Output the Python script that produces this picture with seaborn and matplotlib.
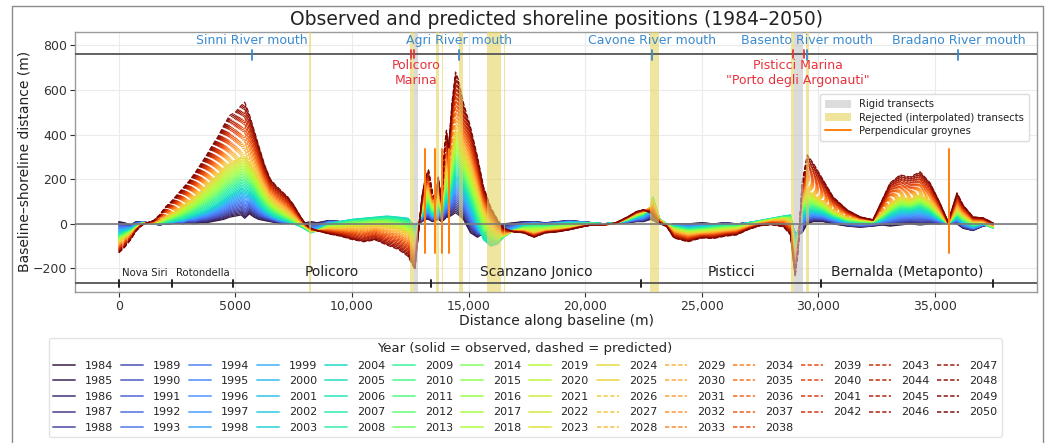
import numpy as np
import pandas as pd
import matplotlib
matplotlib.use("Agg")
import matplotlib.pyplot as plt
import seaborn as sns
from matplotlib.lines import Line2D
from matplotlib.patches import Patch, Rectangle
from matplotlib.ticker import FuncFormatter, FixedLocator

# ---------------- data ----------------
distance_m = [0, 250, 500, 750, 1000, 1250, 1500, 1750, 2000, 2250, 2500, 2750, 3000, 3250, 3500, 3750,
              4000, 4250, 4500, 4750, 5000, 5250, 5400, 5600, 5800, 6000, 6250, 6500, 6750, 7000, 7250, 7500,
              7750, 8000, 8250, 8500, 9000, 9500, 10000, 10500, 11000, 11500, 12000, 12400, 12700, 12850,
              13000, 13150, 13280, 13450, 13580, 13700, 13840, 13970, 14050, 14140, 14300, 14440, 14570, 14780,
              15080, 15380, 15640, 15940, 16240, 16500, 16920, 17350, 17800, 18300, 18800, 19300, 19800, 20300,
              20800, 21300, 21800, 22200, 22500, 22800, 22900, 23200, 23500, 23800, 24400, 25000, 25500, 26000,
              26500, 27000, 27500, 28000, 28500, 28800, 29000, 29130, 29300, 29520, 29770, 30200, 30630, 31230,
              31790, 32340, 32730, 33070, 33500, 33930, 34360, 34790, 35210, 35560, 35940, 36200, 36630, 37060,
              37500]
pos_1984 = [10, 5, -5, 10, 10, 5, 0, -5, 0, 0, 5, 0, 5, 0, 5, 5,
            10, 15, 20, 30, 35, 40, 25, 45, 30, 20, 15, 10, 5, 0, 5, 0,
            10, 5, 10, 5, 15, 10, 5, 5, 0, 5, 0, 0, -10, 0,
            10, 20, 20, 10, 15, 20, 10, 20, 30, 30, 40, 50, 40, 20,
            -40, -60, -40, -30, -10, 0, 5, 10, 10, 5, 10, 15, 10, 5,
            0, 5, 5, 10, 10, 20, 15, 0, -10, 0, 0, 5, 0, 5,
            0, 5, 10, 10, 5, 10, -40, -50, -40, 0, 10, 10, 0, -10,
            -15, -10, -5, -10, -5, 0, -5, 0, 0, 5, 0, -20, -30, -10,
            0]
pos_2005 = [-45, -35, -25, -10, 5, 5, 0, 0, 5, 10, 15, 20, 30, 40, 50, 60,
            75, 90, 110, 130, 145, 160, 155, 145, 125, 95, 65, 45, 30, 20, 10, 0,
            -10, -25, -40, -30, 0, 10, 20, 25, 30, 35, 30, 25, -10, 10,
            40, 65, 75, 40, 50, 75, 40, 95, 115, 100, 170, 220, 210, 170,
            90, 0, -70, -100, -90, -60, -30, -10, 0, -5, 0, 5, 5, 5,
            0, 5, 15, 30, 40, 70, 120, 20, 0, -10, -20, -15, -10, -5,
            -5, 5, 15, 25, 35, 40, -60, -30, 40, 60, 60, 50, 30, 10,
            5, 5, 20, 40, 60, 60, 70, 50, 20, 0, 30, 10, -10, 0,
            -20]
pos_2025 = [-85, -65, -45, -20, 0, 5, 5, 15, 30, 45, 60, 80, 100, 120, 145, 170,
            195, 220, 250, 270, 285, 300, 300, 275, 245, 205, 155, 115, 90, 70, 50, 30,
            10, -10, -30, -30, -20, -20, -15, -15, -10, -15, -25, -45, -90, -10,
            75, 135, 155, 90, 85, 135, 75, 210, 250, 210, 340, 420, 400, 330,
            250, 150, 60, -5, -40, -50, -30, -30, -40, -30, -25, -20, -10, -5,
            -5, 0, 25, 45, 55, 75, 100, 15, -5, -30, -45, -40, -35, -30,
            -25, -10, 5, 15, 20, 10, -150, -80, 100, 150, 130, 100, 60, 30,
            20, 15, 50, 90, 120, 110, 130, 100, 50, 0, 70, 40, 10, 10,
            -10]
pos_2050 = [-130, -105, -72, -30, -5, 5, 15, 40, 75, 100, 130, 160, 190, 225, 265, 305,
            350, 390, 440, 485, 500, 530, 545, 490, 420, 350, 265, 200, 170, 145, 120, 85,
            40, 0, -20, -30, -45, -55, -70, -80, -72, -95, -115, -145, -205, -40,
            120, 210, 242, 139, 121, 210, 107, 345, 420, 345, 555, 680, 644, 541,
            434, 300, 166, 76, 18, -18, -36, -40, -60, -40, -36, -27, -15, -4,
            -4, 4, 30, 55, 63, 49, 35, 4, -13, -63, -80, -63, -65, -55,
            -49, -25, -8, -4, -13, -49, -237, -116, 183, 309, 273, 197, 121, 63,
            31, 18, 107, 183, 219, 210, 233, 183, 94, 9, 139, 85, 31, 27,
            4]
assert len(distance_m) == len(pos_1984) == len(pos_2005) == len(pos_2025) == len(pos_2050)

years = list(range(1984, 2051))
last_observed = 2025
anchor_years = [1984, 2005, 2025, 2050]

river_names = ["Sinni River mouth", "Agri River mouth", "Cavone River mouth",
               "Basento River mouth", "Bradano River mouth"]
river_mouth_m = [5700, 14600, 22880, 29520, 36000]
marina_labels = ["Policoro\nMarina", "Pisticci Marina\n\"Porto degli Argonauti\""]
marina_label_m = [12750, 29100]
marina_marks_m = [12550, 12680, 28920, 29390]
municipality_names = ["Nova Siri", "Rotondella", "Policoro", "Scanzano Jonico", "Pisticci",
                      "Bernalda (Metaponto)"]
municipality_bounds_m = [0, 2270, 4900, 13370, 22400, 30100, 37500]
rejected_start_m = [8150, 12500, 13620, 13840, 14570, 15770, 16500, 22790, 28830, 29480]
rejected_end_m = [8250, 12640, 13720, 13920, 14740, 16410, 16580, 23180, 28960, 29600]
rigid_start_m = [12640, 28960]
rigid_end_m = [12850, 29340]
groyne_m = [13110, 13580, 13880, 14180, 35600]
groyne_bottom, groyne_top = -130, 335
river_line_y = 760
municipality_line_y = -264

# ---------------- build long table ----------------
anchors = np.array([pos_1984, pos_2005, pos_2025, pos_2050], dtype=float)
rows = []
for yr in years:
    prof = np.array([np.interp(yr, anchor_years, anchors[:, i]) for i in range(len(distance_m))])
    kind = "observed" if yr <= last_observed else "predicted"
    for d, v in zip(distance_m, prof):
        rows.append((d, v, yr, kind))
df = pd.DataFrame(rows, columns=["distance", "position", "year", "kind"])

cmap = plt.get_cmap("turbo")
palette = {yr: cmap((yr - years[0]) / (years[-1] - years[0])) for yr in years}

# ---------------- figure ----------------
sns.set_theme(style="whitegrid")
plt.rcParams["font.family"] = ["DejaVu Sans"]
fig = plt.figure(figsize=(10.48, 4.43), dpi=100)
ax = fig.add_axes([0.0716, 0.341, 0.918, 0.587])

sns.lineplot(data=df, x="distance", y="position", hue="year", palette=palette,
             style="kind", dashes={"observed": "", "predicted": (3.7, 1.6)},
             estimator=None, sort=False, legend=False, lw=0.9, alpha=0.95, ax=ax)

# spans
for s, e in zip(rejected_start_m, rejected_end_m):
    ax.axvspan(s, e, color="#e6d460", alpha=0.6, lw=0, zorder=3)
for s, e in zip(rigid_start_m, rigid_end_m):
    ax.axvspan(s, e, color="#c4c4c4", alpha=0.6, lw=0, zorder=3)

# zero line
ax.axhline(0, color="#7a7a7a", lw=1.2, zorder=4)

# groynes
for g in groyne_m:
    ax.plot([g, g], [groyne_bottom, groyne_top], color="#ff7f0e", lw=1.4, zorder=5)

# river line + marks
ax.axhline(river_line_y, color="#555555", lw=1.3, zorder=4)
for name, x in zip(river_names, river_mouth_m):
    ax.plot([x, x], [735, 780], color="#3a8ad0", lw=1.3, zorder=5)
    ax.text(x, 823, name, color="#3a8ad0", fontsize=9, ha="center", va="center", zorder=6)
for x in marina_marks_m:
    ax.plot([x, x], [745, 780], color="#e8323c", lw=1.3, zorder=5)
for lab, x in zip(marina_labels, marina_label_m):
    ax.text(x, 676, lab, color="#e8323c", fontsize=9, ha="center", va="center",
            linespacing=1.15, zorder=6)

# municipality line
ax.axhline(municipality_line_y, color="#555555", lw=1.3, zorder=4)
for b in municipality_bounds_m:
    ax.plot([b, b], [-250, -282], color="#222222", lw=1.4, zorder=5)
for i, name in enumerate(municipality_names):
    mid = 0.5 * (municipality_bounds_m[i] + municipality_bounds_m[i + 1])
    fs = 7.3 if i < 2 else 10
    yy = -222 if i < 2 else -215
    ax.text(mid, yy, name, fontsize=fs, ha="center", va="center", color="#222222", zorder=6)

# axes cosmetics
ax.set_xlim(-1875, 39375)
ax.set_ylim(-305, 860)
ax.xaxis.set_major_locator(FixedLocator([0, 5000, 10000, 15000, 20000, 25000, 30000, 35000]))
ax.yaxis.set_major_locator(FixedLocator([-200, 0, 200, 400, 600, 800]))
ax.xaxis.set_major_formatter(FuncFormatter(lambda v, p: f"{v:,.0f}" if abs(v) >= 10000 else f"{v:.0f}"))
ax.tick_params(axis="both", labelsize=9, colors="#333333", length=3.5, width=0.8, pad=2, left=True, bottom=True)
ax.grid(True, color="#ebebeb", lw=0.8)
for sp in ax.spines.values():
    sp.set_color("#9a9a9a")
    sp.set_linewidth(1.0)
ax.set_xlabel("Distance along baseline (m)", fontsize=10, color="#222222", labelpad=1)
ax.set_ylabel("Baseline\u2013shoreline distance (m)", fontsize=10, color="#222222", labelpad=1)
ax.set_title("Observed and predicted shoreline positions (1984\u20132050)", fontsize=13.5,
             color="#222222", pad=5)

# inset legend
inset_handles = [Patch(facecolor="#dcdcdc", edgecolor="none", label="Rigid transects"),
                 Patch(facecolor="#efe49a", edgecolor="none", label="Rejected (interpolated) transects"),
                 Line2D([0], [0], color="#ff7f0e", lw=1.4, label="Perpendicular groynes")]
leg1 = ax.legend(handles=inset_handles, loc="upper right", bbox_to_anchor=(0.997, 0.78),
                 fontsize=7.2, frameon=True, framealpha=0.9, edgecolor="#dddddd",
                 handlelength=2.6, handleheight=0.9, borderpad=0.5, labelspacing=0.35)
leg1.set_zorder(10)
ax.add_artist(leg1)

# year legend
year_handles = [Line2D([0], [0], color=palette[yr], lw=1.4, alpha=0.75,
                       linestyle="-" if yr <= last_observed else (0, (2.2, 1.2)), label=str(yr))
                for yr in years]
leg2 = fig.legend(handles=year_handles, loc="lower center", bbox_to_anchor=(0.501, 0.0),
                  ncol=14, fontsize=8, title="Year (solid = observed, dashed = predicted)",
                  title_fontsize=9.5, frameon=True, edgecolor="#dddddd", handlelength=2.0,
                  handletextpad=0.85, columnspacing=0.72, labelspacing=0.5, borderpad=0.4)

# outer frame
fig.add_artist(Rectangle((0.0115, -0.02), 0.9835, 1.0065, transform=fig.transFigure,
                         fill=False, edgecolor="#8a8a8a", lw=1.0))

fig.savefig("out.png", dpi=100)
